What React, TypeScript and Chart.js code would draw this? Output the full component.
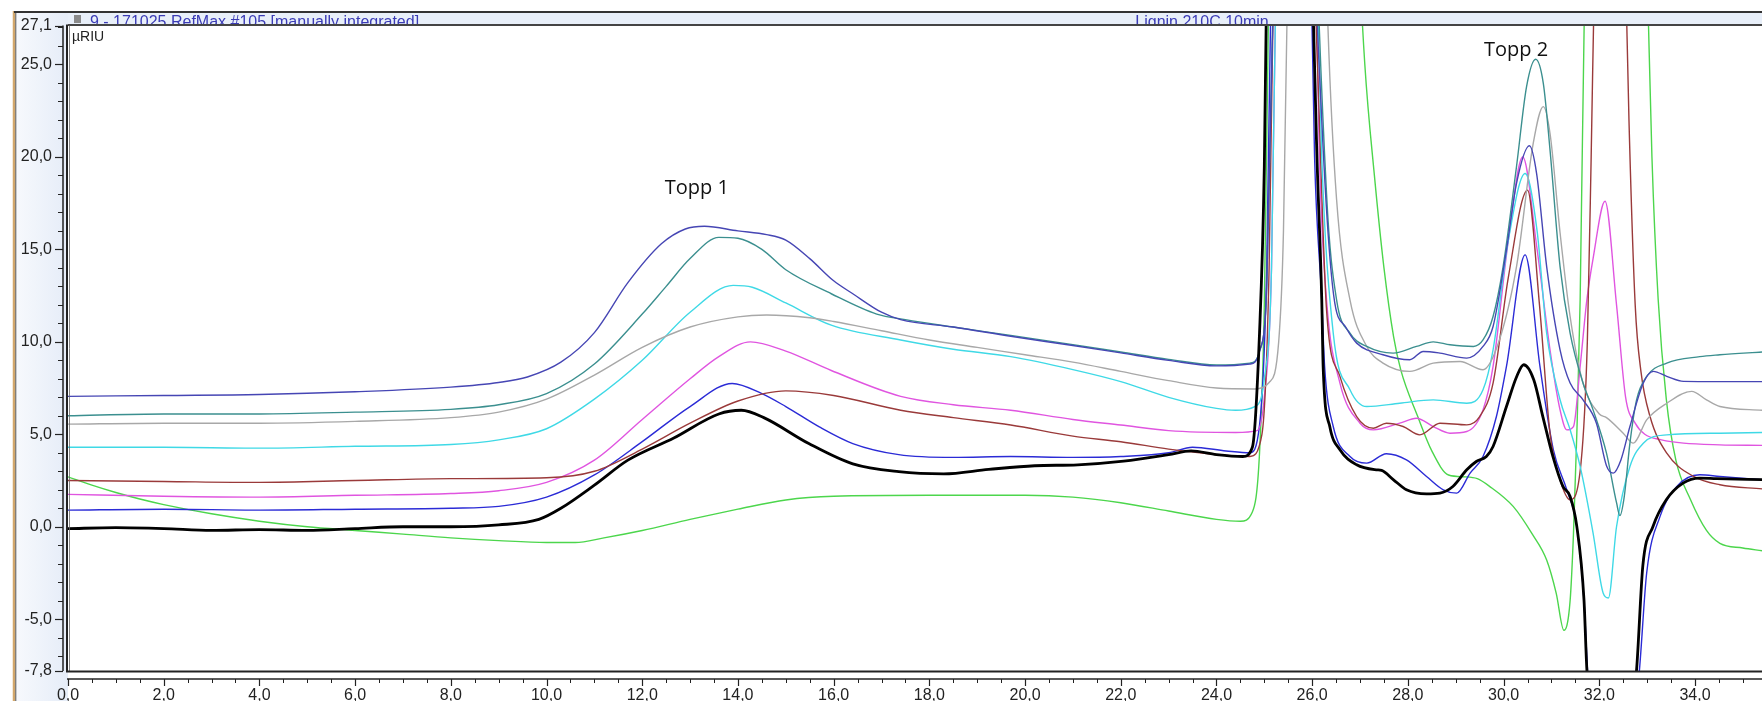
import React, { useEffect, useRef } from 'react';
import { Chart, registerables } from 'chart.js';

Chart.register(...registerables);

type P = [number, number];

// ---------- data (retention time in min, signal in µRIU) ----------
const blackSeries: P[] = [
  [0, -0.1], [1, -0.05], [2, -0.1], [3, -0.2], [4, -0.15], [5, -0.2], [6, -0.1], [7, 0.0], [8, 0.0], [9, 0.1],
  [9.84, 0.4], [10.3, 1.0], [11.0, 2.25], [11.7, 3.6], [12.66, 4.8], [13.6, 6.1], [14.07, 6.3], [14.54, 5.9],
  [15.48, 4.5], [16.4, 3.4], [17.36, 2.98], [18.3, 2.86], [19.24, 3.1], [20.2, 3.3], [21.1, 3.35], [22.06, 3.55],
  [23.0, 3.9], [23.47, 4.1], [24.0, 3.9], [24.55, 3.8], [24.75, 4.3], [24.9, 10.5], [25.0, 19.5], [25.1, 40],
  [25.5, 100], [25.9, 40], [26.1, 20], [26.2, 12.3], [26.23, 8.6], [26.37, 5.4], [26.58, 4.16], [26.93, 3.35],
  [27.34, 3.08], [27.45, 3.05], [27.7, 2.54], [27.97, 2.0], [28.39, 1.78], [28.67, 1.82], [28.94, 2.18],
  [29.23, 3.08], [29.43, 3.53], [29.64, 3.8], [29.78, 4.34], [30.06, 6.5], [30.27, 8.1], [30.42, 8.76],
  [30.63, 7.95], [30.82, 5.96], [31.03, 3.8], [31.24, 2.18], [31.39, 1.64], [31.53, 0.02], [31.68, -3.95],
  [31.74, -7.7], [32.25, -20], [32.78, -7.7], [32.91, -2.1], [33.12, 0.0], [33.4, 1.46], [33.75, 2.36],
  [34.1, 2.63], [34.45, 2.6], [35.4, 2.55],
];

const indigoSeries: P[] = [
  [0, 7.05], [2, 7.1], [4, 7.15], [6, 7.3], [8, 7.55], [9, 7.8], [9.6, 8.1], [10.3, 8.9], [11, 10.5],
  [11.7, 13.2], [12.4, 15.3], [12.9, 16.1], [13.3, 16.25], [14, 16.0], [14.6, 15.8], [15, 15.5], [15.5, 14.5],
  [16, 13.3], [16.4, 12.6], [17, 11.6], [17.4, 11.2], [18.5, 10.8], [19.7, 10.3], [21, 9.8], [22, 9.4],
  [23, 9.0], [24, 8.7], [24.7, 8.8], [24.9, 9.5], [25.05, 13], [25.2, 30], [25.6, 100], [25.95, 40],
  [26.2, 22], [26.45, 12.5], [26.7, 10.8], [26.93, 9.93], [27.48, 9.3], [28.04, 9.03], [28.32, 9.48],
  [28.67, 9.39], [29.23, 9.12], [29.57, 9.75], [29.78, 10.83], [30.06, 14.97], [30.27, 18.57], [30.54, 20.6],
  [30.69, 19.1], [30.9, 14.07], [31.18, 9.57], [31.39, 7.77], [31.66, 6.86], [31.94, 5.6], [32.15, 3.3],
  [32.29, 2.9], [32.45, 3.6], [32.64, 5.42], [32.92, 7.77], [33.13, 8.4], [33.41, 8.13], [33.76, 7.86],
  [34.5, 7.85], [35.4, 7.85],
];

const tealSeries: P[] = [
  [0, 6.0], [2, 6.1], [4, 6.1], [6, 6.2], [8, 6.35], [9, 6.6], [10, 7.2], [11, 8.8], [12, 11.5], [12.5, 13],
  [13, 14.5], [13.6, 15.65], [14.0, 15.6], [14.5, 15.0], [15, 13.9], [15.95, 12.6], [16.9, 11.5], [17.5, 11.2],
  [18.5, 10.8], [19.7, 10.35], [21, 9.85], [22, 9.45], [23, 9.05], [24, 8.75], [24.7, 8.85], [24.9, 9.5],
  [25.05, 13], [25.2, 30], [25.6, 100], [26.0, 40], [26.3, 18], [26.51, 12.27], [26.79, 10.47], [27.14, 9.75],
  [27.69, 9.39], [28.18, 9.75], [28.53, 10.0], [28.88, 9.84], [29.37, 9.75], [29.57, 10.1], [29.78, 11.37],
  [29.99, 14.07], [30.27, 19.48], [30.48, 23.8], [30.67, 25.28], [30.83, 23.98], [30.97, 20.38], [31.18, 14.07],
  [31.39, 10.47], [31.66, 7.77], [31.87, 6.32], [32.15, 3.98], [32.36, 1.3], [32.43, 0.6], [32.52, 1.6],
  [32.64, 4.52], [32.78, 6.87], [32.99, 8.13], [33.41, 8.85], [34.1, 9.2], [34.52, 9.3], [35.4, 9.45],
];

const graySeries: P[] = [
  [0, 5.55], [2, 5.6], [4, 5.6], [6, 5.7], [8, 5.9], [9, 6.2], [10, 6.9], [11, 8.2], [12, 9.7], [13, 10.8],
  [14, 11.35], [14.6, 11.45], [15.5, 11.3], [16, 11.1], [17, 10.6], [18, 10.1], [19, 9.7], [20, 9.3], [21, 8.9],
  [22, 8.4], [23, 7.9], [24, 7.5], [24.8, 7.45], [25.1, 7.8], [25.3, 10], [25.4, 16], [25.55, 40], [25.9, 100],
  [26.2, 40], [26.33, 27], [26.51, 17.7], [26.79, 12.27], [27.14, 9.75], [27.48, 8.85], [28.04, 8.4],
  [28.53, 8.85], [29.09, 8.94], [29.57, 8.49], [29.9, 10.0], [30.27, 14.07], [30.62, 20.74], [30.83, 22.72],
  [30.97, 21.28], [31.18, 15.9], [31.39, 11.37], [31.66, 7.77], [32.0, 6.1], [32.15, 5.9], [32.5, 5.06],
  [32.71, 4.52], [32.99, 5.78], [33.41, 6.68], [33.93, 7.32], [34.24, 6.86], [34.52, 6.5], [35.4, 6.3],
];

const cyanSeries: P[] = [
  [0, 4.3], [2, 4.3], [4, 4.25], [6, 4.35], [8, 4.45], [9, 4.7], [10, 5.3], [11, 6.9], [12, 9.0], [13, 11.6],
  [13.9, 13.05], [14.3, 12.95], [15, 12.1], [15.95, 10.9], [17.4, 10.1], [18.5, 9.6], [19.7, 9.2], [21, 8.5],
  [22, 7.85], [23, 7.0], [24, 6.4], [24.4, 6.3], [24.8, 6.5], [25.0, 8], [25.15, 14], [25.3, 40], [25.65, 100],
  [26.0, 40], [26.2, 20], [26.44, 10.47], [26.79, 7.41], [27.14, 6.5], [27.83, 6.68], [28.53, 6.86],
  [29.23, 6.68], [29.57, 7.41], [29.78, 9.57], [30.1, 15.5], [30.45, 19.1], [30.7, 16], [30.9, 10.47],
  [31.18, 6.87], [31.39, 5.25], [31.6, 3.26], [31.87, -0.34], [32.08, -3.58], [32.19, -3.85], [32.36, 0.0],
  [32.64, 3.26], [32.92, 4.52], [33.41, 4.97], [34.52, 5.06], [35.4, 5.1],
];

const brownSeries: P[] = [
  [0, 2.5], [2, 2.45], [4, 2.4], [6, 2.5], [8, 2.6], [10, 2.65], [11, 3.0], [12, 4.2], [13, 5.6], [14, 6.8],
  [15, 7.35], [16, 7.1], [17.4, 6.3], [18.5, 5.9], [19.7, 5.5], [21, 4.9], [22, 4.6], [23, 4.2], [24, 3.9],
  [24.7, 3.8], [24.95, 5], [25.1, 14], [25.25, 40], [25.6, 100], [25.95, 40], [26.15, 22], [26.3, 11.73],
  [26.58, 8.13], [26.93, 5.96], [27.28, 5.33], [27.55, 5.6], [27.9, 5.42], [28.25, 4.97], [28.67, 5.6],
  [29.23, 5.51], [29.5, 5.96], [29.78, 7.77], [30.1, 13.5], [30.5, 18.2], [30.75, 12], [30.97, 5.06],
  [31.18, 2.54], [31.39, 1.46], [31.62, 3.5], [31.75, 10], [31.83, 20], [31.9, 30], [32.25, 60], [32.55, 30],
  [32.62, 22], [32.75, 12], [32.87, 8.4], [33.06, 5.96], [33.41, 3.98], [33.97, 2.72], [34.52, 2.27], [35.4, 2.05],
];

const magentaSeries: P[] = [
  [0, 1.75], [2, 1.65], [4, 1.6], [6, 1.7], [8, 1.8], [9, 1.95], [10, 2.4], [11, 3.6], [12, 5.8], [13, 8.0],
  [13.6, 9.2], [14.26, 10.0], [15, 9.5], [15.95, 8.45], [17.4, 7.05], [18.5, 6.6], [19.7, 6.3], [21, 5.8],
  [22, 5.5], [23, 5.2], [24.4, 5.1], [24.85, 5.2], [25.0, 7], [25.15, 14], [25.3, 40], [25.65, 100], [26.0, 40],
  [26.15, 20], [26.3, 12.27], [26.58, 7.77], [27.0, 5.6], [27.28, 5.24], [27.83, 5.6], [28.18, 5.87],
  [28.53, 5.42], [28.88, 5.06], [29.23, 5.15], [29.57, 6.32], [29.78, 8.67], [30.1, 15.5], [30.4, 20.0],
  [30.7, 15], [30.97, 9.57], [31.18, 6.32], [31.32, 5.24], [31.46, 5.42], [31.6, 8.67], [31.74, 12.27],
  [31.87, 14.5], [32.12, 17.6], [32.36, 12.0], [32.55, 7.0], [32.75, 5.6], [32.95, 5.0], [33.3, 4.7],
  [33.76, 4.52], [34.52, 4.43], [35.4, 4.4],
];

const blueSeries: P[] = [
  [0, 0.9], [2, 0.95], [4, 0.9], [6, 0.95], [8, 1.0], [9, 1.1], [10, 1.6], [11, 2.8], [12, 4.6], [13, 6.5],
  [13.88, 7.75], [14.5, 7.2], [15, 6.5], [15.7, 5.4], [16.4, 4.5], [17.36, 3.9], [18.5, 3.75], [19.7, 3.8],
  [21, 3.75], [22, 3.8], [23, 4.0], [23.5, 4.3], [24.2, 4.1], [24.7, 4.0], [24.9, 5.5], [25.05, 14], [25.2, 40],
  [25.6, 100], [25.9, 40], [26.05, 20], [26.2, 12.27], [26.26, 8.67], [26.44, 5.42], [26.79, 3.8],
  [27.14, 3.44], [27.55, 3.95], [27.97, 3.62], [28.39, 2.72], [28.74, 2.0], [29.02, 1.82], [29.3, 2.9],
  [29.57, 3.8], [29.85, 5.96], [30.06, 8.67], [30.45, 14.7], [30.76, 8.67], [31.04, 4.16], [31.32, 2.0],
  [31.53, 0.02], [31.68, -4.0], [31.76, -8], [32.2, -20], [32.83, -8], [32.99, -2.5], [33.27, 0.56],
  [33.62, 2.18], [34.1, 2.81], [34.52, 2.72], [35.4, 2.55],
];

const greenSeries: P[] = [
  [0, 2.7], [0.5, 2.25], [1, 1.85], [1.5, 1.5], [2, 1.2], [3, 0.7], [4, 0.3], [5, 0.0], [6, -0.2], [7, -0.4],
  [8, -0.6], [9, -0.75], [10, -0.85], [10.6, -0.85], [11.2, -0.6], [12, -0.2], [13, 0.4], [14, 0.95],
  [15, 1.45], [16, 1.65], [18, 1.7], [20, 1.7], [21, 1.6], [22, 1.3], [23, 0.85], [24, 0.4], [24.5, 0.3],
  [24.75, 0.8], [24.9, 4], [25.0, 12], [25.1, 30], [26.0, 120], [27.0, 30], [27.1, 25], [27.3, 19],
  [27.5, 14], [27.7, 10.3], [27.85, 8.5], [28.2, 6.0], [28.5, 4.1], [28.85, 2.8], [29.2, 2.7], [29.45, 2.6],
  [29.7, 2.2], [30.2, 1.1], [30.6, -0.4], [30.9, -1.8], [31.1, -3.6], [31.26, -5.6], [31.39, -4.0],
  [31.46, -0.4], [31.53, 5], [31.6, 12.3], [31.7, 30], [32.4, 80], [33.0, 30], [33.1, 20], [33.23, 12.3],
  [33.4, 6.9], [33.6, 3.6], [33.9, 1.5], [34.24, -0.2], [34.52, -0.9], [35.0, -1.15], [35.4, -1.3],
];

const seriesColors = ['#000000', '#4646b4', '#3b8f8f', '#a8a8a8', '#3fd9e6', '#9a3a3a', '#e055e0', '#2b2bd6', '#4cd64c'];
const seriesList: P[][] = [blackSeries, indigoSeries, tealSeries, graySeries, cyanSeries, brownSeries, magentaSeries, blueSeries, greenSeries];

const xTickLabels = [0, 2, 4, 6, 8, 10, 12, 14, 16, 18, 20, 22, 24, 26, 28, 30, 32, 34];
const yTickLabels = [-7.8, -5, 0, 5, 10, 15, 20, 25, 27.1];
const xRange: [number, number] = [0, 35.4];
const yRange: [number, number] = [-7.8, 27.1];
const unitLabel = 'µRIU';
const titleLeft = '9 - 171025 RefMax #105 [manually integrated]';
const titleRight = 'Lignin 210C 10min';
const peakLabels: { text: string; x: number; y: number }[] = [
  { text: 'Topp 1', x: 13.14, y: 18.3 },
  { text: 'Topp 2', x: 30.26, y: 25.75 },
];

const fmt = (v: number) => v.toFixed(1).replace('.', ',');
const SANS = '"Liberation Sans", Arial, sans-serif';

const decorPlugin = {
  id: 'decor',
  beforeDraw(chart: any) {
    const { ctx, chartArea: a, width, height } = chart;
    ctx.save();
    ctx.fillStyle = '#ffffff';
    ctx.fillRect(0, 0, width, height);
    const g = ctx.createLinearGradient(15, 0, 66, 0);
    g.addColorStop(0, '#f7f9fd');
    g.addColorStop(1, '#e6edf8');
    ctx.fillStyle = g;
    ctx.fillRect(15, 12, a.left - 15, height - 12);
    ctx.fillStyle = '#e8eff9';
    ctx.fillRect(a.left, 12, width - a.left, a.top - 12);
    ctx.restore();
  },
  afterDraw(chart: any) {
    const { ctx, chartArea: a, width, height, scales } = chart;
    const xs = scales.x;
    const ys = scales.y;
    ctx.save();
    const line = (x1: number, y1: number, x2: number, y2: number, w: number, c: string) => {
      ctx.beginPath();
      ctx.lineWidth = w;
      ctx.strokeStyle = c;
      ctx.moveTo(x1, y1);
      ctx.lineTo(x2, y2);
      ctx.stroke();
    };
    // header titles (clipped at the top like the original)
    ctx.save();
    ctx.beginPath();
    ctx.rect(a.left, 14, width - a.left, a.top - 14);
    ctx.clip();
    ctx.fillStyle = '#3b3bb5';
    ctx.font = `16px ${SANS}`;
    ctx.textBaseline = 'alphabetic';
    ctx.textAlign = 'left';
    ctx.fillText(titleLeft, a.left + 22, a.top + 1.5);
    ctx.fillStyle = '#8a8a8a';
    ctx.fillRect(a.left + 6, 15, 7, 8);
    ctx.fillStyle = '#3b3bb5';
    ctx.textAlign = 'center';
    ctx.fillText(titleRight, 1202, a.top + 1.5);
    ctx.restore();
    // left tan bar
    line(14, 11, 14, height, 2.5, '#d2a76c');
    line(15.8, 11, 15.8, height, 1, '#555');
    // top border lines
    line(14, 12, width, 12, 2, '#333');
    line(a.left, a.top - 0.5, width, a.top - 0.5, 2, '#444');
    // plot box left & bottom
    line(a.left - 1, a.top - 1, a.left - 1, a.bottom + 1, 2, '#222');
    line(a.left + 1.5, a.top, a.left + 1.5, a.bottom, 0.8, '#666');
    line(a.left - 2, a.bottom + 0.5, width, a.bottom + 0.5, 2, '#222');
    // y axis
    const yAxisX = a.left - 5;
    line(yAxisX, ys.getPixelForValue(yRange[1]), yAxisX, ys.getPixelForValue(yRange[0]), 1.5, '#222');
    for (let v = Math.ceil(yRange[0]); v <= yRange[1]; v++) {
      const p = Math.round(ys.getPixelForValue(v)) + 0.5;
      line(yAxisX - 5, p, yAxisX, p, 1, '#222');
    }
    yTickLabels.forEach((v) => {
      const p = Math.round(ys.getPixelForValue(v)) + 0.5;
      line(yAxisX - 8, p, yAxisX, p, 1.2, '#222');
    });
    // x axis
    const xAxisY = a.bottom + 8;
    line(a.left - 1, xAxisY, width, xAxisY, 1.5, '#222');
    for (let v = xRange[0]; v <= xRange[1]; v += 0.5) {
      const p = Math.round(xs.getPixelForValue(v)) + 0.5;
      line(p, xAxisY, p, xAxisY + 4, 1, '#222');
    }
    xTickLabels.forEach((v) => {
      const p = Math.round(xs.getPixelForValue(v)) + 0.5;
      line(p, xAxisY, p, xAxisY + 7, 1.2, '#222');
    });
    // unit label
    ctx.fillStyle = '#222';
    ctx.font = `14px ${SANS}`;
    ctx.textAlign = 'left';
    ctx.textBaseline = 'alphabetic';
    ctx.fillText(unitLabel, a.left + 4, a.top + 15);
    // peak annotations
    ctx.font = '20px "Open Sans", "Noto Sans", sans-serif';
    ctx.fillStyle = '#111';
    ctx.textAlign = 'center';
    ctx.textBaseline = 'middle';
    peakLabels.forEach((l) => {
      ctx.fillText(l.text, xs.getPixelForValue(l.x), ys.getPixelForValue(l.y));
    });
    ctx.restore();
  },
};

export default function App() {
  const ref = useRef<HTMLCanvasElement | null>(null);
  useEffect(() => {
    document.body.style.margin = '0';
    const canvas = ref.current;
    if (!canvas) return;
    const chart = new Chart(canvas, {
      type: 'line',
      data: {
        datasets: seriesList.map((s, i) => ({
          data: s.map(([x, y]) => ({ x, y })),
          borderColor: seriesColors[i],
          borderWidth: i === 0 ? 2.8 : 1.4,
          pointRadius: 0,
          fill: false,
          cubicInterpolationMode: 'monotone' as const,
          tension: 0.4,
          clip: 0,
        })),
      },
      options: {
        responsive: false,
        animation: false,
        devicePixelRatio: 1,
        layout: { padding: { top: 24, left: 0, right: 0, bottom: 0 } },
        plugins: { legend: { display: false }, tooltip: { enabled: false } },
        scales: {
          x: {
            type: 'linear',
            min: xRange[0],
            max: xRange[1],
            grid: { display: false, drawTicks: false },
            border: { display: false },
            afterFit: (s: any) => { s.height = 30; },
            afterBuildTicks: (s: any) => { s.ticks = xTickLabels.map((v) => ({ value: v })); },
            ticks: {
              autoSkip: false,
              maxRotation: 0,
              padding: 15,
              color: '#222',
              font: { family: SANS, size: 16 },
              callback: (v: any) => fmt(Number(v)),
            },
          },
          y: {
            type: 'linear',
            min: yRange[0],
            max: yRange[1],
            grid: { display: false, drawTicks: false },
            border: { display: false },
            afterFit: (s: any) => { s.width = 68; },
            afterBuildTicks: (s: any) => { s.ticks = yTickLabels.map((v) => ({ value: v })); },
            ticks: {
              autoSkip: false,
              padding: 16,
              color: '#222',
              font: { family: SANS, size: 16 },
              callback: (v: any) => fmt(Number(v)),
            },
          },
        },
      },
      plugins: [decorPlugin],
    } as any);
    return () => chart.destroy();
  }, []);
  return (
    <div style={{ position: 'absolute', left: 0, top: 0, width: 1762, height: 701 }}>
      <canvas ref={ref} width={1762} height={701} style={{ display: 'block' }} />
    </div>
  );
}
